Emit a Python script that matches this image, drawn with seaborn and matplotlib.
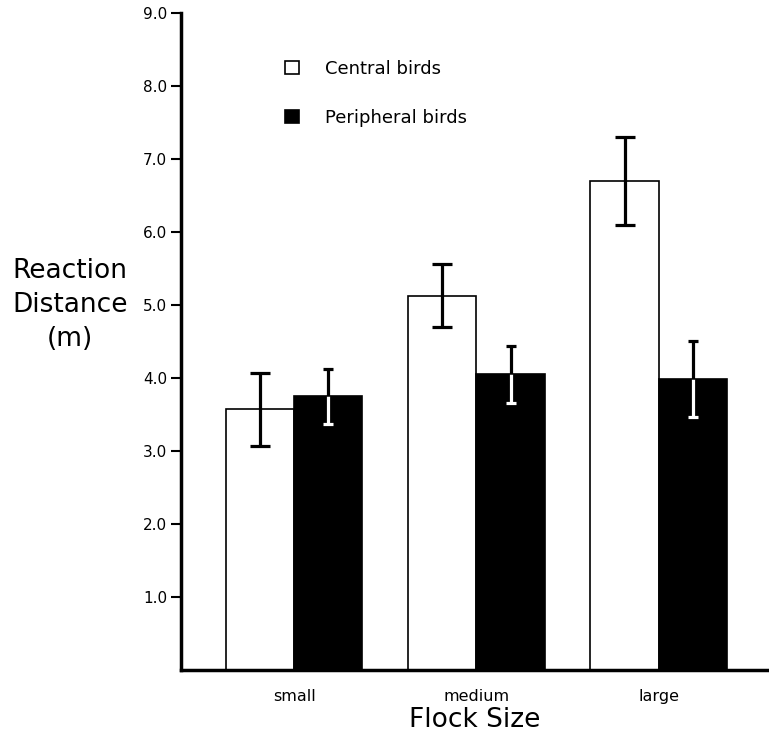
import pandas as pd
import matplotlib
matplotlib.use("Agg")
import matplotlib.pyplot as plt
import seaborn as sns

# ------------------------------------------------------------------
# Data (reaction distance in m, mean +/- error)
# ------------------------------------------------------------------
flock_sizes = ["small", "medium", "large"]
groups = ["Central birds", "Peripheral birds"]
central_mean = [3.57, 5.13, 6.70]
central_err = [0.50, 0.43, 0.60]
peripheral_mean = [3.75, 4.05, 3.99]
peripheral_err = [0.38, 0.39, 0.52]
y_ticks = [1, 2, 3, 4, 5, 6, 7, 8, 9]

df = pd.DataFrame({
    "flock": flock_sizes * 2,
    "group": [groups[0]] * 3 + [groups[1]] * 3,
    "distance": central_mean + peripheral_mean,
})

sns.set_style("ticks")
plt.rcParams["font.family"] = ["DejaVu Sans"]
plt.rcParams.update({"text.color": "black", "axes.labelcolor": "black",
                     "xtick.color": "black", "ytick.color": "black",
                     "axes.edgecolor": "black"})

fig, ax = plt.subplots(figsize=(7.69, 7.35), dpi=100)
fig.subplots_adjust(left=0.2354, right=0.999, bottom=0.0884, top=0.982)

sns.barplot(data=df, x="flock", y="distance", hue="group", order=flock_sizes,
            hue_order=groups, palette={groups[0]: "white", groups[1]: "black"},
            edgecolor="black", linewidth=1.2, width=0.75, errorbar=None, ax=ax)

# error bars: black for central, black above / white inside for peripheral
for i, (container, means, errs) in enumerate(zip(ax.containers,
                                                 [central_mean, peripheral_mean],
                                                 [central_err, peripheral_err])):
    xs = [b.get_x() + b.get_width() / 2 for b in container]
    if i == 0:
        ax.errorbar(xs, means, yerr=errs, fmt="none", ecolor="black",
                    elinewidth=2.3, capsize=7, capthick=2.3, zorder=5)
    else:
        lo = [m - e for m, e in zip(means, errs)]
        hi = [m + e for m, e in zip(means, errs)]
        ax.vlines(xs, lo, means, color="white", linewidth=2.3, zorder=5)
        ax.vlines(xs, means, hi, color="black", linewidth=2.3, zorder=5)
        ax.plot(xs, lo, ls="none", marker="_", ms=7, mew=2.3, color="white", zorder=6)
        ax.plot(xs, hi, ls="none", marker="_", ms=7, mew=2.3, color="black", zorder=6)

ax.set_ylim(0, 9)
ax.set_xlim(-0.62, 2.6)
ax.set_yticks(y_ticks)
ax.set_yticklabels([f"{t:.1f}" for t in y_ticks], fontsize=11)
ax.tick_params(axis="y", length=7, width=1.5, direction="out", pad=3)
ax.tick_params(axis="x", length=0, pad=14, labelsize=11.5)

sns.despine(ax=ax)
ax.spines["left"].set_linewidth(2.5)
ax.spines["bottom"].set_linewidth(2.5)

ax.set_xlabel("Flock Size", fontsize=19, labelpad=2)
ax.set_ylabel("Reaction\nDistance\n(m)", fontsize=19, rotation=0,
              ha="center", va="center", linespacing=1.4)
ax.yaxis.set_label_coords(-0.189, 0.556)

handles, labels = ax.get_legend_handles_labels()
for h in handles:
    h.set_edgecolor("black")
    h.set_linewidth(1.2)
ax.legend(handles, labels, frameon=False, fontsize=13, loc="upper left",
          bbox_to_anchor=(276 / 769, 1 - 51 / 735), bbox_transform=fig.transFigure,
          borderpad=0, handlelength=0.75, handleheight=0.75,
          handletextpad=1.45, labelspacing=1.7)

plt.savefig("out.png", dpi=100)
plt.close()
